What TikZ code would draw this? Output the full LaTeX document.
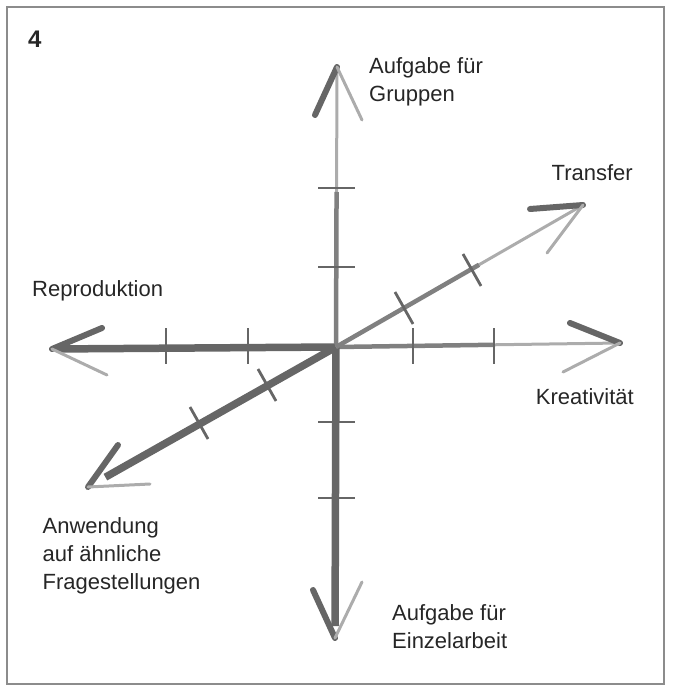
\documentclass[tikz,border=0pt]{standalone}
\usepackage{fontspec}
\setmainfont{Liberation Sans}
\usepackage{tikz}
\definecolor{pencil}{HTML}{666666}
\definecolor{pencilmid}{HTML}{808080}
\definecolor{pencillight}{HTML}{ACACAC}
\definecolor{framegray}{HTML}{8C8C8C}

\begin{document}
\begin{tikzpicture}[x=1pt,y=-1pt,every node/.style={font=\fontsize{22}{28}\selectfont,inner sep=0pt,align=left,text=black!85},heavy/.style={draw=pencil,line width=7.5pt},midline/.style={draw=pencilmid,line width=4.5pt},light/.style={draw=pencillight,line width=3pt},armdark/.style={draw=pencil,line width=6pt,line cap=round},armlight/.style={draw=pencillight,line width=3pt,line cap=round},tick/.style={draw=pencil,line width=2.8pt}]
\useasboundingbox (0,0) rectangle (672,688);
\draw[framegray,line width=2pt] (7,7) rectangle (664,684);
\coordinate (O) at (336,347);
\coordinate (N) at (337,67);
\coordinate (S) at (335,638);
\coordinate (W) at (52,349);
\coordinate (E) at (620,343);
\coordinate (NE) at (583,205);
\coordinate (SW) at (88,487);
\draw[heavy,shorten >=6pt] (O) -- (W);
\draw[light,shorten >=3pt] (O) -- (E);
\draw[midline,shorten >=126pt] (O) -- (E);
\draw[heavy,shorten >=12pt] (O) -- (S);
\draw[light,shorten >=3pt] (O) -- (N);
\draw[midline,shorten >=125pt] (O) -- (N);
\draw[heavy,shorten >=20pt] (O) -- (SW);
\draw[light,shorten >=3pt] (O) -- (NE);
\draw[midline,shorten >=120pt] (O) -- (NE);
\draw[armdark] (N) -- ++(-22,48);
\draw[armlight] (N) -- ++(25,53);
\draw[armdark] (NE) -- ++(-53,4);
\draw[armlight] (NE) -- ++(-36,48);
\draw[armdark] (E) -- ++(-50,-20);
\draw[armlight] (E) -- ++(-57,29);
\draw[armdark] (S) -- ++(-22,-48);
\draw[armlight] (S) -- ++(27,-56);
\draw[armdark] (W) -- ++(50,-21);
\draw[armlight] (W) -- ++(55,26);
\draw[armdark] (SW) -- ++(30,-42);
\draw[armlight] (SW) -- ++(62,-3);
\foreach \x in {166,248,413,494} \draw[tick] (\x,328) -- (\x,364);
\foreach \y in {188,267,422,498} \draw[tick] (318,\y) -- (355,\y);
\foreach \x/\y in {199/423,267/385,404/308,472/270} \draw[tick] (\x-9,\y-16) -- (\x+9,\y+16);
\node[anchor=base west,font=\bfseries\fontsize{24}{28}\selectfont] (num) at (28,47) {4};
\node[anchor=north west] (groups) at (369,57.5) {Aufgabe für\\Gruppen};
\node[anchor=base east] (transfer) at (633,180) {Transfer};
\node[anchor=base west] (repro) at (32,296) {Reproduktion};
\node[anchor=base east] (creat) at (634,404) {Kreativität};
\node[anchor=north west] (apply) at (42.5,517.5) {Anwendung\\auf ähnliche\\Fragestellungen};
\node[anchor=north west] (single) at (392,604.5) {Aufgabe für\\Einzelarbeit};
\end{tikzpicture}
\end{document}
